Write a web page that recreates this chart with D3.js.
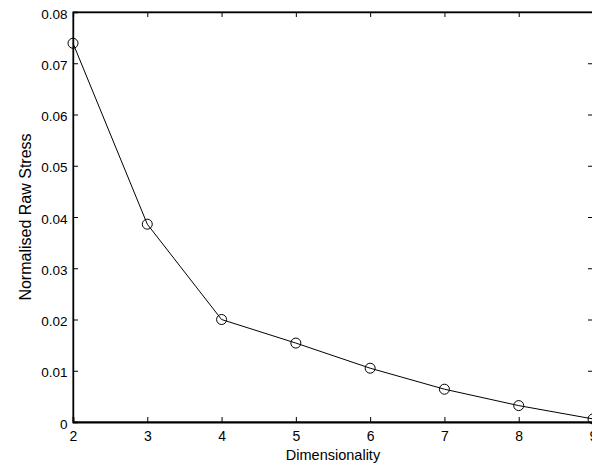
<!DOCTYPE html>
<html>
<head>
<meta charset="utf-8">
<script src="https://cdn.jsdelivr.net/npm/d3@7"></script>
<style>
  body { margin: 0; background: #fff; }
  svg { display: block; }
  text { font-family: "Liberation Sans", Arial, sans-serif; fill: #000; }
</style>
</head>
<body>
<div id="chart"></div>
<script>
// values
var dims = [2, 3, 4, 5, 6, 7, 8, 9];
var stress = [0.0739, 0.0386, 0.0200, 0.0154, 0.0105, 0.0064, 0.0032, 0.0006];
var xTicks = [2, 3, 4, 5, 6, 7, 8, 9];
var yTicks = [0, 0.01, 0.02, 0.03, 0.04, 0.05, 0.06, 0.07, 0.08];

var W = 592, H = 465;
var margin = { top: 12, right: -1, bottom: 43, left: 73 };
var width = W - margin.left - margin.right;
var height = H - margin.top - margin.bottom;

var x = d3.scaleLinear().domain([2, 9]).range([0, width]);
var y = d3.scaleLinear().domain([0, 0.08]).range([height, 0]);

var svg = d3.select("#chart")
  .append("svg")
  .attr("width", W)
  .attr("height", H)
  .append("g")
  .attr("transform", "translate(" + margin.left + "," + margin.top + ")");

// frame
svg.append("rect")
  .attr("x", 0).attr("y", 0)
  .attr("width", width).attr("height", height)
  .attr("fill", "none")
  .attr("stroke", "#000")
  .attr("stroke-width", 1);

var tickLen = 5;

// bottom axis, ticks pointing in
var xb = svg.append("g")
  .attr("transform", "translate(0," + height + ")")
  .call(d3.axisBottom(x).tickValues(xTicks).tickSize(-tickLen).tickPadding(9.5).tickFormat(d3.format("d")));
xb.select(".domain").attr("stroke-width", 1.8);
xb.selectAll("text").attr("font-size", 14);

// top ticks
var xt = svg.append("g")
  .call(d3.axisTop(x).tickValues(xTicks).tickSize(-tickLen).tickFormat(""));
xt.select(".domain").attr("stroke-width", 1.3);

// left axis
var yl = svg.append("g")
  .call(d3.axisLeft(y).tickValues(yTicks).tickSize(-tickLen).tickPadding(5.5)
    .tickFormat(function(d) { return d === 0 ? "0" : d3.format(".2f")(d); }));
yl.select(".domain").attr("stroke-width", 1.4);
yl.selectAll("text").attr("font-size", 13.5).attr("dy", "0.45em");

// right ticks
svg.append("g")
  .attr("transform", "translate(" + width + ",0)")
  .call(d3.axisRight(y).tickValues(yTicks).tickSize(-tickLen).tickFormat(""));

// line
var pts = dims.map(function(d, i) { return { x: d, y: stress[i] }; });
svg.append("path")
  .datum(pts)
  .attr("fill", "none")
  .attr("stroke", "#000")
  .attr("stroke-width", 1)
  .attr("d", d3.line()
    .x(function(d) { return x(d.x); })
    .y(function(d) { return y(d.y); }));

svg.selectAll("circle")
  .data(pts)
  .enter()
  .append("circle")
  .attr("cx", function(d) { return x(d.x); })
  .attr("cy", function(d) { return y(d.y); })
  .attr("r", 5)
  .attr("fill", "none")
  .attr("stroke", "#000")
  .attr("stroke-width", 1);

// axis labels
svg.append("text")
  .attr("x", x(5.5))
  .attr("y", H - margin.top - 5)
  .attr("text-anchor", "middle")
  .attr("font-size", 14.5)
  .text("Dimensionality");

svg.append("text")
  .attr("transform", "translate(" + (31 - margin.left) + "," + (217 - margin.top) + ") rotate(-90)")
  .attr("text-anchor", "middle")
  .attr("font-size", 16)
  .text("Normalised Raw Stress");
</script>
</body>
</html>
